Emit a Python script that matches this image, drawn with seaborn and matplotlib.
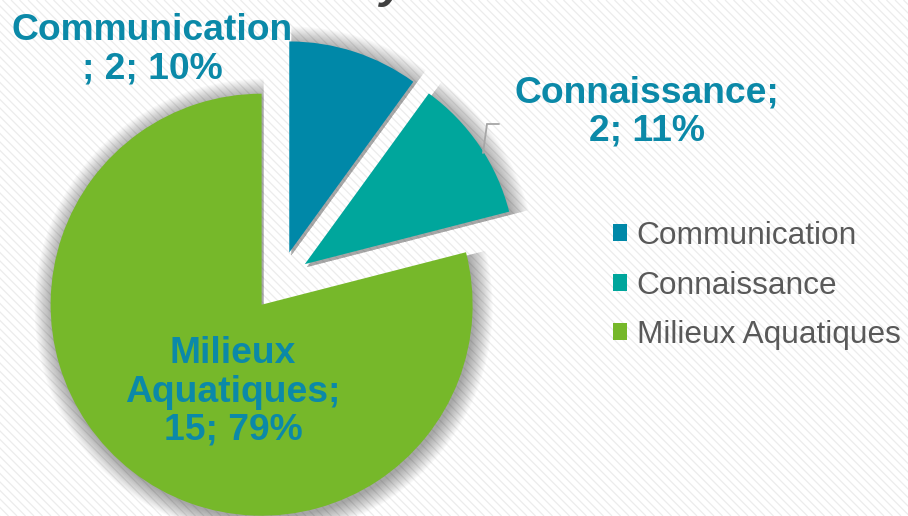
import matplotlib
matplotlib.use("Agg")
import matplotlib.pyplot as plt
import numpy as np
import seaborn as sns

# Thematic breakdown of actions
categories = ["Communication", "Connaissance", "Milieux Aquatiques"]
counts = [2, 2, 15]
shares = [10, 11, 79]
label_text = ["Communication\n; 2; 10%", "Connaissance;\n2; 11%", "Milieux\nAquatiques;\n15; 79%"]

sns.set_style("white")
plt.rcParams["font.family"] = ["Liberation Sans", "DejaVu Sans"]

colors = sns.color_palette(["#0088A8", "#00A69C", "#76B82A"])
label_color = "#0B89A8"
legend_color = "#595959"

W, H = 908, 516
fig = plt.figure(figsize=(W / 100, H / 100), dpi=100)
ax = fig.add_axes([0, 0, 1, 1])

center = (280, 235)
radius = 211
gap = 30
explode = [gap] * len(shares)

# soft drop shadow: stacked translucent copies slightly larger than the pie
for k in range(16):
    ax.pie(shares, explode=explode, startangle=90, counterclock=False,
           center=(center[0] + 2, center[1] - 3), radius=radius + 1.2 * k,
           colors=["#000000"] * 3,
           wedgeprops=dict(linewidth=0, alpha=0.024, zorder=1))

wedges, _ = ax.pie(shares, explode=explode, startangle=90, counterclock=False,
                   center=center, radius=radius, colors=colors,
                   wedgeprops=dict(linewidth=0, zorder=3))

# diagonal stripe texture of the background
step = 8.5
for c in np.arange(0, W + H + step, step):
    ax.plot([c - H, c], [H, 0], color="#ececec", lw=0.9, zorder=0,
            solid_capstyle="butt")

fs = 26.8
ax.text(152, 466, label_text[0], ha="center", va="center", fontsize=fs,
        fontweight="bold", color=label_color, linespacing=1.12, zorder=5)
ax.text(647, 404, label_text[1], ha="center", va="center", fontsize=fs,
        fontweight="bold", color=label_color, linespacing=1.12, zorder=5)
ax.text(233, 124, label_text[2], ha="center", va="center", fontsize=fs,
        fontweight="bold", color=label_color, linespacing=1.12, zorder=5)

# leader line of the Connaissance label
ax.plot([483, 487, 499], [H - 153, H - 124, H - 124], color="#a6a6a6",
        lw=1.3, zorder=4, solid_joinstyle="miter")

# descender of the title above the plot area
ax.text(380, H + 3, "y", ha="left", va="baseline", fontsize=34,
        fontweight="bold", fontstyle="italic", color="#404040", zorder=5)

leg = ax.legend(wedges, categories, loc="upper left",
                bbox_to_anchor=(613 / W, 1 - 221 / H),
                bbox_transform=fig.transFigure, frameon=False,
                fontsize=22.8, handlelength=0.45, handleheight=0.45,
                handletextpad=0.3, labelspacing=0.62, borderpad=0,
                borderaxespad=0)
for t in leg.get_texts():
    t.set_color(legend_color)

ax.set_xlim(0, W)
ax.set_ylim(0, H)
ax.set_aspect("auto")
ax.set_axis_off()

fig.savefig("out.png", dpi=100, facecolor="white")
